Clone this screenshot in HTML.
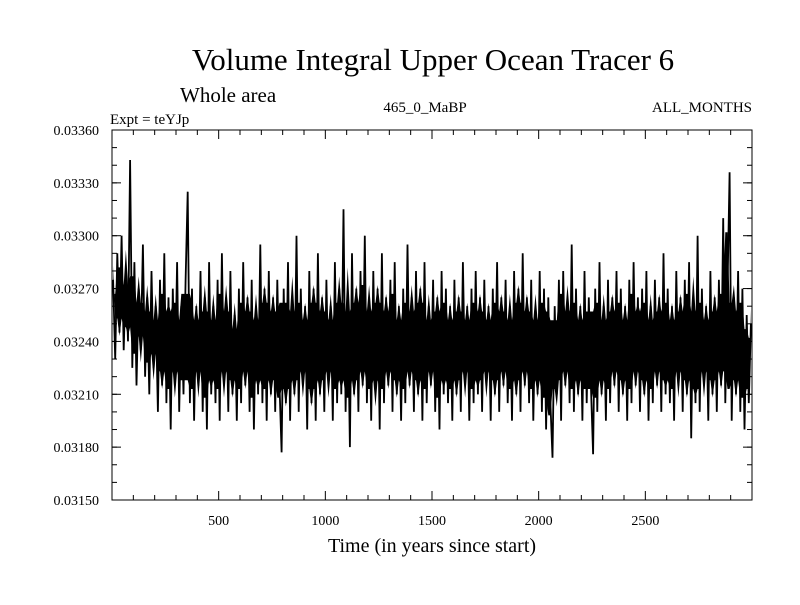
<!DOCTYPE html>
<html><head><meta charset="utf-8"><style>
body{margin:0;background:#fff;width:800px;height:600px;overflow:hidden}
text{font-family:"Liberation Serif",serif;fill:#000}
</style></head><body>
<svg id="chart" width="800" height="600">
<text x="433" y="70" font-size="31" text-anchor="middle">Volume Integral Upper Ocean Tracer 6</text>
<text x="180" y="102" font-size="21">Whole area</text>
<text x="110" y="124" font-size="15">Expt = teYJp</text>
<text x="425" y="112" font-size="15" text-anchor="middle">465_0_MaBP</text>
<text x="752" y="112" font-size="15" text-anchor="end">ALL_MONTHS</text>
<text x="432" y="552" font-size="20" text-anchor="middle">Time (in years since start)</text>
<g id="axes"></g>
<rect x="112" y="130" width="640" height="370" fill="none" stroke="#000" stroke-width="1"/>
</svg>
<script>
const yTicks=[0.0315,0.0318,0.0321,0.0324,0.0327,0.0330,0.0333,0.0336];
const yTickLabels=["0.03150","0.03180","0.03210","0.03240","0.03270","0.03300","0.03330","0.03360"];
const xTicks=[500,1000,1500,2000,2500];
const xTickLabels=["500","1000","1500","2000","2500"];
const years=[];for(let i=0;i<300;i++)years.push(i*10);
const values=[
3275,3230,3290,3245,3300,3235,3280,3240,3343,3225,3285,3215,3270,3235,3295,3220,3265,3210,3280,3225,
3260,3200,3275,3215,3290,3205,3265,3190,3270,3215,3285,3200,3260,3210,3275,3325,3205,3270,3195,3260,
3215,3280,3200,3265,3190,3285,3210,3260,3205,3275,3195,3290,3215,3265,3200,3280,3210,3255,3195,3270,
3205,3285,3215,3265,3200,3275,3190,3260,3210,3295,3205,3270,3195,3280,3210,3265,3200,3275,3215,3177,
3270,3205,3285,3195,3265,3210,3300,3200,3270,3215,3260,3190,3280,3205,3270,3195,3290,3210,3265,3200,
3275,3215,3260,3195,3285,3205,3270,3210,3315,3200,3265,3180,3290,3210,3270,3200,3280,3215,3300,3205,
3265,3195,3280,3210,3270,3190,3290,3205,3265,3215,3275,3200,3285,3210,3260,3195,3270,3205,3295,3215,
3265,3200,3280,3210,3270,3195,3285,3205,3260,3215,3275,3200,3265,3190,3280,3210,3270,3205,3260,3195,
3275,3210,3265,3200,3285,3215,3260,3195,3270,3205,3280,3210,3265,3200,3275,3215,3260,3195,3270,3210,
3285,3200,3265,3215,3275,3205,3260,3195,3280,3210,3270,3200,3290,3215,3265,3205,3275,3195,3260,3210,
3280,3200,3270,3190,3265,3205,3174,3260,3210,3275,3195,3280,3215,3265,3205,3295,3200,3270,3210,3260,
3195,3280,3205,3265,3215,3176,3270,3200,3285,3210,3260,3195,3275,3205,3265,3215,3280,3200,3270,3210,
3260,3195,3275,3205,3285,3215,3265,3200,3270,3210,3280,3195,3260,3205,3275,3215,3265,3200,3290,3210,
3270,3205,3260,3195,3280,3215,3265,3200,3275,3210,3285,3185,3265,3205,3300,3200,3270,3215,3260,3195,
3280,3210,3265,3200,3275,3215,3310,3205,3270,3336,3195,3265,3210,3280,3200,3270,3190,3255,3205,3250];
const X0=112,X1=752,Y0=500,Y1=130,XMIN=0,XMAX=3000,YMIN=0.0315,YMAX=0.0336;
const sx=v=>X0+(v-XMIN)/(XMAX-XMIN)*(X1-X0);
const sy=v=>Y0-(v-YMIN)/(YMAX-YMIN)*(Y0-Y1);
const NS="http://www.w3.org/2000/svg";
const g=document.getElementById('axes');
function mk(t,a){const e=document.createElementNS(NS,t);for(const k in a)e.setAttribute(k,a[k]);g.appendChild(e);return e;}
yTicks.forEach((v,i)=>{
 const y=sy(v);
 const t=mk('line',{x1:X0,x2:X0+9,y1:y,y2:y,stroke:'#000'});
 
 
 const t2=mk('line',{x1:X1,x2:X1-9,y1:y,y2:y,stroke:'#000'});
 
 
 const l=mk('text',{x:99,y:y+5,'font-size':14,'text-anchor':'end'});
 l.textContent=yTickLabels[i];
 
 
});
for(let v=YMIN+0.0001;v<YMAX;v+=0.0001){const y=sy(v);
 const m=mk('line',{x1:X0,x2:X0+5,y1:y,y2:y,stroke:'#000'});
 
 
 const m2=mk('line',{x1:X1,x2:X1-5,y1:y,y2:y,stroke:'#000'});
 
 }
for(let v=100;v<XMAX;v+=100){const x=sx(v);const len=v%500===0?9:5;
 const m=mk('line',{x1:x,x2:x,y1:Y0,y2:Y0-len,stroke:'#000'});
 
 
 const m2=mk('line',{x1:x,x2:x,y1:Y1,y2:Y1+len,stroke:'#000'});
 
 }
xTicks.forEach((v,i)=>{
 const l=mk('text',{x:sx(v),y:525,'font-size':14,'text-anchor':'middle'});
 l.textContent=xTickLabels[i];
 
 
});
const up=[],dn=[];
for(let i=0;i<values.length;i++){
 const w=values.slice(Math.max(0,i-2),Math.min(values.length,i+3)).slice().sort((a,b)=>a-b);
 const hi=w[w.length-2]!==undefined?w[w.length-2]:w[w.length-1];
 const lo=w[1]!==undefined?w[1]:w[0];
 up.push(sx(years[i]+5).toFixed(1)+','+sy((hi-8)/100000).toFixed(1));
 dn.unshift(sx(years[i]+5).toFixed(1)+','+sy((lo+8)/100000).toFixed(1));
}
const band=mk('polygon',{points:up.concat(dn).join(' '),fill:'#000'});


const pts=values.map((v,i)=>sx(years[i]+5).toFixed(1)+','+sy(v/100000).toFixed(1)).join(' ');
const line=mk('polyline',{points:pts,fill:'none',stroke:'#000','stroke-width':1.8});


</script>
</body></html>
